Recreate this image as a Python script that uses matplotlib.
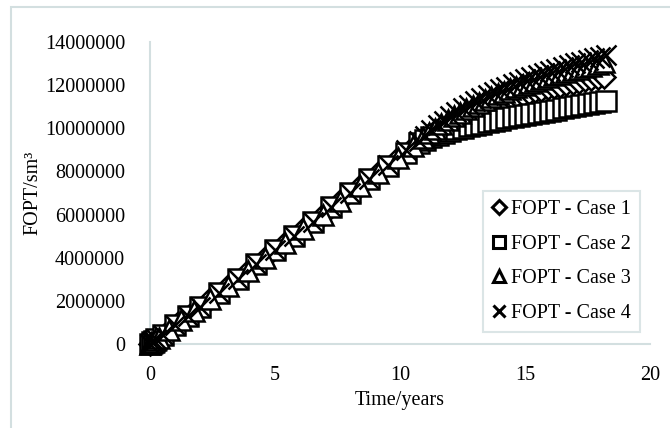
import matplotlib.pyplot as plt
from matplotlib.patches import Rectangle

# ---- data ----
# cases 2 and 4 report at one set of times, cases 1 and 3 at a slightly shifted set
time_a = [0, 0.08, 0.17, 0.25, 0.5, 1.0, 1.5, 2.0, 2.75, 3.5,
          4.25, 5.0, 5.75, 6.5, 7.25, 8.0, 8.75, 9.5, 10.25, 10.75,
          11.0, 11.25, 11.5, 11.75, 12.0, 12.25, 12.5, 12.75, 13.0, 13.25,
          13.5, 13.75, 14.0, 14.25, 14.5, 14.75, 15.0, 15.25, 15.5, 15.75,
          16.0, 16.25, 16.5, 16.75, 17.0, 17.25, 17.5, 17.75, 18.0, 18.25]

time_b = [0, 0.04, 0.12, 0.21, 0.35, 0.75, 1.25, 1.75, 2.4, 3.1,
          3.9, 4.6, 5.4, 6.1, 6.9, 7.6, 8.4, 9.1, 9.9, 10.5,
          10.9, 11.15, 11.4, 11.65, 11.9, 12.15, 12.4, 12.65, 12.9, 13.15,
          13.4, 13.65, 13.9, 14.15, 14.4, 14.65, 14.9, 15.15, 15.4, 15.65,
          15.9, 16.15, 16.4, 16.65, 16.9, 17.15, 17.4, 17.65, 17.9, 18.15]

fopt_case1 = [0, 35000, 100000, 180000, 300000, 650000, 1090000, 1520000, 2090000, 2700000,
              3400000, 4000000, 4700000, 5310000, 6000000, 6620000, 7310000, 7920000, 8620000, 9150000,
              9500000, 9700000, 9890000, 10060000, 10220000, 10380000, 10520000, 10650000, 10780000, 10900000,
              11010000, 11110000, 11210000, 11300000, 11390000, 11480000, 11560000, 11640000, 11710000, 11780000,
              11850000, 11920000, 11980000, 12040000, 12100000, 12160000, 12220000, 12270000, 12320000, 12370000]

fopt_case2 = [0, 70000, 150000, 220000, 440000, 870000, 1300000, 1730000, 2380000, 3030000,
              3690000, 4350000, 5010000, 5670000, 6330000, 6980000, 7630000, 8260000, 8860000, 9300000,
              9450000, 9580000, 9690000, 9790000, 9880000, 9960000, 10030000, 10100000, 10160000, 10220000,
              10280000, 10340000, 10400000, 10460000, 10520000, 10570000, 10620000, 10670000, 10720000, 10770000,
              10820000, 10870000, 10920000, 10970000, 11020000, 11070000, 11120000, 11170000, 11220000, 11270000]

fopt_case3 = [0, 35000, 100000, 180000, 300000, 650000, 1090000, 1520000, 2090000, 2700000,
              3400000, 4000000, 4700000, 5310000, 6000000, 6620000, 7310000, 7920000, 8640000, 9170000,
              9530000, 9760000, 9980000, 10180000, 10370000, 10560000, 10730000, 10900000, 11050000, 11190000,
              11330000, 11450000, 11570000, 11690000, 11800000, 11900000, 12000000, 12100000, 12190000, 12280000,
              12370000, 12450000, 12530000, 12610000, 12690000, 12770000, 12840000, 12910000, 12980000, 13050000]

fopt_case4 = [0, 70000, 150000, 220000, 440000, 870000, 1300000, 1730000, 2380000, 3030000,
              3690000, 4350000, 5010000, 5670000, 6330000, 7000000, 7660000, 8320000, 8980000, 9420000,
              9660000, 9900000, 10130000, 10350000, 10560000, 10750000, 10930000, 11100000, 11260000, 11410000,
              11550000, 11680000, 11810000, 11930000, 12050000, 12160000, 12270000, 12370000, 12470000, 12570000,
              12660000, 12750000, 12840000, 12930000, 13010000, 13090000, 13170000, 13250000, 13320000, 13380000]

series_labels = ["FOPT - Case 1", "FOPT - Case 2", "FOPT - Case 3", "FOPT - Case 4"]
x_ticks = [0, 5, 10, 15, 20]
y_ticks = [0, 2000000, 4000000, 6000000, 8000000, 10000000, 12000000, 14000000]

# ---- style ----
plt.rcParams["font.family"] = ["Liberation Serif", "DejaVu Serif"]
GRID_COL = "#d3dfe0"

W, H = 670, 428
fig = plt.figure(figsize=(W / 100, H / 100), dpi=100)

# outer chart border (runs off the right / bottom of the image)
fig.patches.append(Rectangle((11 / W, -0.1), 1.2, 1 - 6.5 / H + 0.1,
                             transform=fig.transFigure, fill=False,
                             edgecolor=GRID_COL, linewidth=1.5))

ax = fig.add_axes([150 / W, 1 - 344 / H, 500 / W, 302 / H])

styles = [
    dict(marker="D", markersize=11),
    dict(marker="s", markersize=15),
    dict(marker="^", markersize=15),
    dict(marker="x", markersize=14),
]
all_series = [(time_b, fopt_case1), (time_a, fopt_case2),
              (time_b, fopt_case3), (time_a, fopt_case4)]

for (tt, vals), lab, st in zip(all_series, series_labels, styles):
    ax.plot(tt, vals, linestyle="none", color="black",
            markerfacecolor="white", markeredgecolor="black",
            markeredgewidth=1.8, clip_on=False, label=lab, **st)

ax.set_xlim(0, 20)
ax.set_ylim(0, 14000000)
ax.set_xticks(x_ticks)
ax.set_yticks(y_ticks)
ax.set_xticklabels([str(v) for v in x_ticks])
ax.set_yticklabels([str(v) for v in y_ticks])
ax.tick_params(axis="both", length=0, labelsize=14.5)
ax.tick_params(axis="y", pad=18)
ax.tick_params(axis="x", pad=16)

for side in ["top", "right"]:
    ax.spines[side].set_visible(False)
for side in ["left", "bottom"]:
    ax.spines[side].set_color(GRID_COL)
    ax.spines[side].set_linewidth(1.5)
    ax.spines[side].set_zorder(0)

ax.set_xlabel("Time/years", fontsize=14.5)
ax.set_ylabel("FOPT/sm³", fontsize=14.5)
ax.xaxis.set_label_coords(0.5, -0.155)
ax.yaxis.set_label_coords(-0.215, 0.5)

leg_handles = []
for st in styles:
    hh = plt.Line2D([], [], linestyle="none", marker=st["marker"], color="black",
                    markerfacecolor="white", markeredgewidth=2.2,
                    markersize=7 if st["marker"] == "D" else 9)
    leg_handles.append(hh)
leg = ax.legend(leg_handles, series_labels, loc="lower left",
                bbox_to_anchor=(0.666, 0.04), fontsize=14.5,
                frameon=True, fancybox=False, edgecolor=GRID_COL,
                handlelength=0.7, handletextpad=0.25, labelspacing=0.77,
                borderpad=0.45, borderaxespad=0)
leg.get_frame().set_linewidth(1.5)

fig.savefig("out.png", dpi=100)
